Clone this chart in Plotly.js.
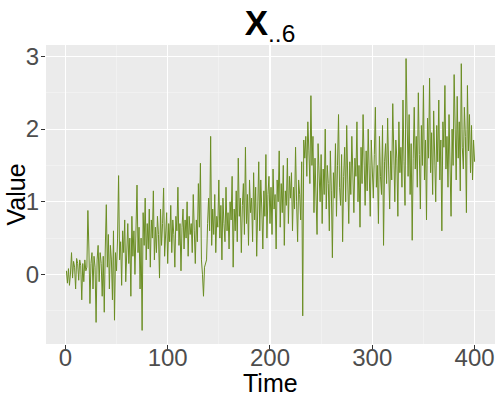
<!DOCTYPE html>
<html>
<head>
<meta charset="utf-8">
<script src="https://cdn.plot.ly/plotly-3.0.1.min.js"></script>
<style>
  html, body { margin: 0; padding: 0; background: #fff; }
  #chart { width: 500px; height: 400px; }
</style>
</head>
<body>
<div id="chart"></div>
<script>
// values, t = 1..400
var vals1 = [0.05, -0.12, 0.08, -0.15, 0.02, 0.3, -0.05, 0.18, 0.1, -0.2, 0.22, 0.15, -0.08, 0.2, 0.12, -0.35, 0.15, -0.1, 0.2, 0.05,
             0.1, 0.88, 0.35, -0.4, 0.15, 0.3, -0.2, 0.25, 0.1, -0.66, 0.2, 0.4, -0.1, 0.3, 0.15, -0.3, 0.25, -0.52, 0.35, 0.96,
             0.1, 0.55, -0.2, 0.4, 0.2, -0.35, 0.6, -0.63, 0.3, 0.05, 0.5, 1.36, 0.2, 0.45, -0.15, 0.6, 0.3, 0.75, -0.1, 0.4,
             0.7, 0.15, 0.5, -0.3, 0.8, 0.25, 0.6, 0.0, 0.95, 1.23, 0.3, 0.65, -0.2, 0.5, -0.77, 0.85, 0.4, 1.05, 0.2, 0.7,
             0.35, 0.9, 0.1, 0.75, 0.5, 1.15, 0.2, 0.65, 0.3, 0.8, 0.55, -0.05, 0.9, 0.4, 0.7, 1.19, 0.25, 0.6, 0.85, 0.15];
var vals2 = [0.7, 0.45, 0.95, 0.3, 0.75, 0.55, 0.1, 0.8, 0.6, 1.2, 0.4, 0.7, 0.05, 0.65, 0.9, 0.35, 0.75, 0.5, 1.0, 0.25,
             0.8, 0.55, 0.7, 0.3, 1.1, 0.6, 0.15, 0.75, 0.45, 1.25, 0.65, 1.53, 0.2, 0.0, -0.3, 0.1, 0.15, 0.2, 0.7, 1.05,
             0.6, 1.9, 0.4, 0.9, 0.55, 1.1, 0.3, 0.8, 0.65, 1.3, 0.5, 0.95, 0.2, 1.05, 0.7, 0.45, 1.2, 0.6, 0.85, 0.35,
             1.0, 0.75, 1.35, 0.1, 0.9, 0.6, 1.15, 0.45, 1.6, 0.8, 1.05, 0.3, 0.95, 1.25, 0.55, 1.75, 0.7, 1.1, 0.4, 1.3,
             0.85, 1.05, 0.45, 1.4, 0.75, 1.2, 0.25, 1.0, 1.55, 0.6, 1.3, 0.9, 0.35, 1.15, 0.8, 1.65, 0.5, 1.1, 1.35, 0.7];
var vals3 = [1.2, 0.55, 1.45, 0.9, 1.1, 0.35, 1.3, 1.0, 1.7, 0.65, 1.25, 0.85, 1.5, 0.4, 1.15, 0.95, 1.6, 0.7, 1.35, 1.05,
             1.4, 0.6, 1.2, 0.9, 1.75, 1.0, 0.45, 1.3, 1.1, 0.75, 1.55, -0.57, 1.85, 1.6, 1.9, 1.35, 2.1, 1.7, 1.25, 2.46,
             1.5, 1.9, 0.85, 1.6, 1.2, 0.55, 1.8, 1.35, 1.0, 1.65, 0.7, 1.45, 1.1, 2.0, 0.9, 1.5, 1.25, 0.6, 1.7, 1.15,
             0.23, 1.4, 1.05, 1.8, 0.8, 1.5, 2.2, 1.2, 0.95, 1.65, 0.45, 1.35, 1.75, 1.0, 2.05, 1.3, 0.7, 1.55, 1.1, 1.9,
             1.2, 0.85, 1.6, 1.35, 2.1, 1.0, 1.5, 0.65, 1.75, 1.25, 2.2, 1.45, 0.95, 1.7, 1.15, 2.0, 1.3, 0.8, 1.85, 1.4];
var vals4 = [1.05, 1.65, 2.3, 1.2, 1.5, 0.7, 1.9, 1.35, 1.1, 2.05, 0.4, 1.55, 1.8, 1.25, 2.15, 1.45, 0.9, 1.7, 1.3, 2.35,
             1.5, 1.0, 1.85, 1.6, 0.8, 2.1, 1.4, 1.75, 1.2, 2.4, 1.55, 0.95, 2.97, 1.7, 1.35, 2.2, 1.1, 1.8, 0.47, 1.6,
             2.3, 1.45, 1.9, 1.2, 2.5, 1.65, 0.9, 2.05, 1.5, 2.6, 1.3, 1.85, 0.75, 2.15, 1.6, 2.7, 1.4, 1.95, 1.1, 2.25,
             1.7, 1.0, 2.05, 1.55, 2.4, 1.3, 1.85, 0.6, 2.1, 1.75, 2.6, 1.45, 1.9, 1.2, 2.2, 1.65, 0.8, 2.0, 1.5, 2.75,
             1.85, 1.3, 2.45, 1.6, 2.1, 1.15, 2.9, 1.75, 1.45, 2.3, 1.9, 0.85, 2.6, 1.7, 2.2, 1.4, 2.05, 1.3, 1.85, 1.55];

var values = vals1.concat(vals2, vals3, vals4);
var time = [];
for (var i = 0; i < values.length; i++) time.push(i + 1);

// ggplot style 5% expansion
var xmin = 1, xmax = values.length;
var ymin = Math.min.apply(null, values), ymax = Math.max.apply(null, values);
var xpad = (xmax - xmin) * 0.05, ypad = (ymax - ymin) * 0.05;

var data = [{
    x: time,
    y: values,
    type: 'scatter',
    mode: 'lines',
    line: {color: '#6B8E23', width: 1},
    hoverinfo: 'none',
    showlegend: false
}];

var layout = {
    width: 500,
    height: 400,
    paper_bgcolor: '#ffffff',
    plot_bgcolor: '#EBEBEB',
    margin: {l: 46, r: 5, t: 45, b: 56},
    font: {family: 'Liberation Sans, Arial, sans-serif', color: '#000'},
    title: {
        text: '<b>X</b><sub>..6</sub>',
        font: {size: 35, color: '#000'},
        x: 0.54, xanchor: 'center',
        y: 0.975, yanchor: 'top'
    },
    xaxis: {
        range: [xmin - xpad, xmax + xpad],
        tick0: 0, dtick: 100,
        showgrid: true, gridcolor: '#ffffff', gridwidth: 1.1,
        minor: {tick0: 50, dtick: 100, showgrid: true, gridcolor: '#F5F5F5', gridwidth: 0.6},
        zeroline: false,
        ticks: 'outside', ticklen: 4, tickcolor: '#333333', tickwidth: 1,
        tickfont: {size: 24, color: '#4D4D4D'},
        ticklabelstandoff: -12,
        fixedrange: true
    },
    yaxis: {
        range: [ymin - ypad, ymax + ypad],
        tick0: 0, dtick: 1,
        showgrid: true, gridcolor: '#ffffff', gridwidth: 1.1,
        minor: {tick0: 0.5, dtick: 1, showgrid: true, gridcolor: '#F5F5F5', gridwidth: 0.6},
        zeroline: false,
        ticks: 'outside', ticklen: 4, tickcolor: '#333333', tickwidth: 1,
        tickfont: {size: 24, color: '#4D4D4D'},
        ticklabelstandoff: -3,
        fixedrange: true
    },
    // axis titles placed by hand so they sit clear of the big tick labels
    annotations: [
        {text: 'Time', xref: 'paper', yref: 'paper', x: 0.5, y: 0,
         xanchor: 'center', yanchor: 'middle', yshift: -39, showarrow: false,
         font: {size: 25, color: '#000'}},
        {text: 'Value', xref: 'paper', yref: 'paper', x: 0, y: 0.5,
         xanchor: 'center', yanchor: 'middle', xshift: -31, textangle: -90, showarrow: false,
         font: {size: 25, color: '#000'}}
    ]
};

Plotly.newPlot('chart', data, layout, {displayModeBar: false, staticPlot: true});
</script>
</body>
</html>
